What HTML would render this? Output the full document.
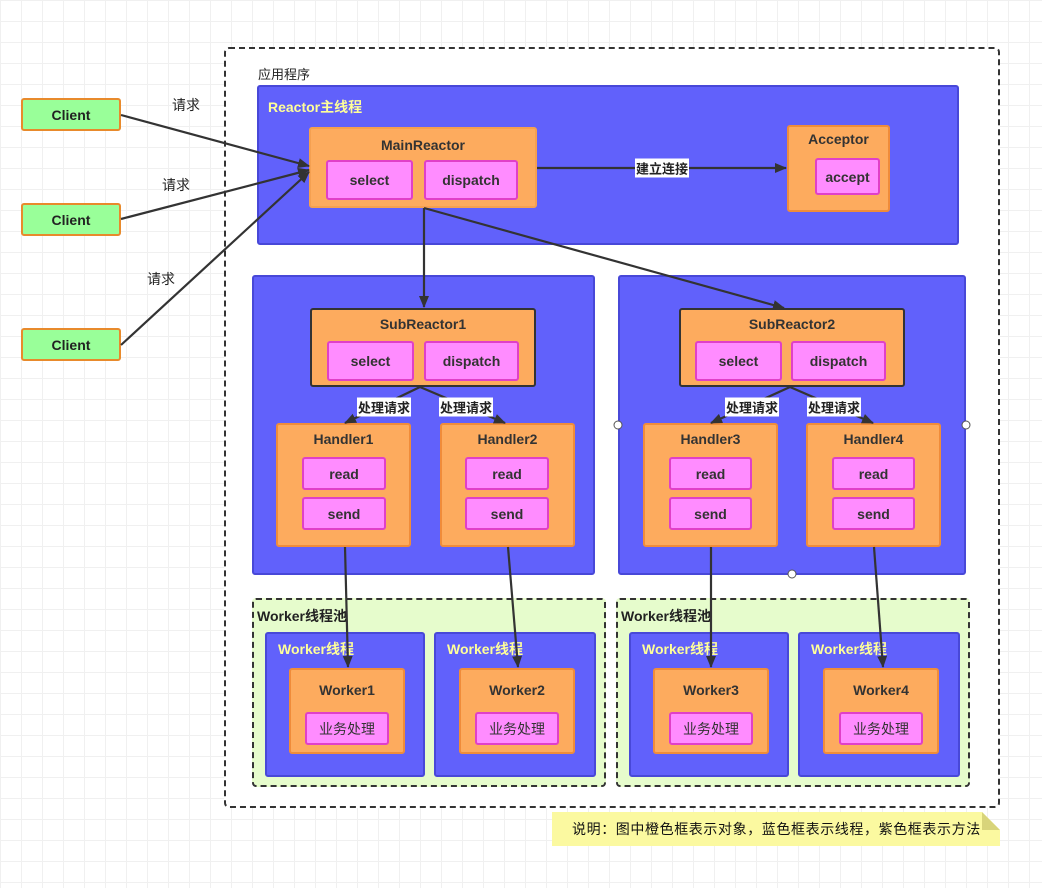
<!DOCTYPE html>
<html><head><meta charset="utf-8"><style>
body{margin:0;width:1042px;height:888px;position:relative;overflow:hidden;font-family:"Liberation Sans","Noto Sans CJK SC",sans-serif;
background-color:#fff;background-image:linear-gradient(#f0f0f0 1px,transparent 1px),linear-gradient(90deg,#f0f0f0 1px,transparent 1px);background-size:21px 21px;}
div{position:absolute;box-sizing:border-box}
.t{font-size:14px;color:#222;white-space:nowrap}
.blue{background:#6161fb;border:2px solid #4848d8;border-radius:3px}
.or{background:#fdab5e;border:2px solid #f08c3a;border-radius:3px;text-align:center;font-weight:bold;font-size:14px;color:#333;padding-top:8px}
.pk{background:#ff8cff;border:2px solid #e040c8;border-radius:3px;text-align:center;font-weight:bold;font-size:14px;color:#333;display:flex;align-items:center;justify-content:center;padding:0}
.cl{background:#99ff99;border:2px solid #e88a2c;border-radius:3px;display:flex;align-items:center;justify-content:center;font-weight:bold;font-size:14px;color:#222;width:100px;height:33px;left:21px}
.pool{background:#e6fccc;border:2px dashed #333;border-radius:4px}
.wl{color:#ffff99;font-weight:bold;font-size:14px}
.lb{background:#fff;font-size:13px;font-weight:bold;color:#222;padding:0 1px;white-space:nowrap;transform:translate(-50%,-50%)}
</style></head><body>
<div style="left:224px;top:47px;width:776px;height:761px;border:2px dashed #333;border-radius:5px;background:#fff"></div>
<div class="t" style="left:258px;top:64px;font-size:13px">应用程序</div>
<div class="blue" style="left:257px;top:85px;width:702px;height:160px"></div>
<div class="wl" style="left:268px;top:97px">Reactor主线程</div>
<div class="or" style="left:309px;top:127px;width:228px;height:81px;border-color:#f5a050">MainReactor</div>
<div class="pk" style="left:326px;top:160px;width:87px;height:40px">select</div>
<div class="pk" style="left:424px;top:160px;width:94px;height:40px">dispatch</div>
<div class="or" style="left:787px;top:125px;width:103px;height:87px;padding-top:4px">Acceptor</div>
<div class="pk" style="left:815px;top:158px;width:65px;height:37px">accept</div>
<div class="cl" style="top:98px">Client</div>
<div class="cl" style="top:203px">Client</div>
<div class="cl" style="top:328px">Client</div>
<div class="t" style="left:172px;top:95px">请求</div>
<div class="t" style="left:162px;top:175px">请求</div>
<div class="t" style="left:147px;top:269px">请求</div>

<div class="blue" style="left:252px;top:275px;width:343px;height:300px"></div>
<div class="blue" style="left:618px;top:275px;width:348px;height:300px"></div>
<div class="or" style="left:310px;top:308px;width:226px;height:79px;border-color:#333;padding-top:6px">SubReactor1</div>
<div class="pk" style="left:327px;top:341px;width:87px;height:40px">select</div>
<div class="pk" style="left:424px;top:341px;width:95px;height:40px">dispatch</div>
<div class="or" style="left:679px;top:308px;width:226px;height:79px;border-color:#333;padding-top:6px">SubReactor2</div>
<div class="pk" style="left:695px;top:341px;width:87px;height:40px">select</div>
<div class="pk" style="left:791px;top:341px;width:95px;height:40px">dispatch</div>

<div class="or" style="left:276px;top:423px;width:135px;height:124px;padding-top:6px">Handler1</div>
<div class="pk" style="left:302px;top:457px;width:84px;height:33px">read</div>
<div class="pk" style="left:302px;top:497px;width:84px;height:33px">send</div>
<div class="or" style="left:440px;top:423px;width:135px;height:124px;padding-top:6px">Handler2</div>
<div class="pk" style="left:465px;top:457px;width:84px;height:33px">read</div>
<div class="pk" style="left:465px;top:497px;width:84px;height:33px">send</div>
<div class="or" style="left:643px;top:423px;width:135px;height:124px;padding-top:6px">Handler3</div>
<div class="pk" style="left:669px;top:457px;width:83px;height:33px">read</div>
<div class="pk" style="left:669px;top:497px;width:83px;height:33px">send</div>
<div class="or" style="left:806px;top:423px;width:135px;height:124px;padding-top:6px">Handler4</div>
<div class="pk" style="left:832px;top:457px;width:83px;height:33px">read</div>
<div class="pk" style="left:832px;top:497px;width:83px;height:33px">send</div>

<div class="pool" style="left:252px;top:598px;width:354px;height:189px"></div>
<div class="pool" style="left:616px;top:598px;width:354px;height:189px"></div>
<div class="t" style="left:257px;top:606px;font-weight:bold">Worker线程池</div>
<div class="t" style="left:621px;top:606px;font-weight:bold">Worker线程池</div>

<div class="blue" style="left:265px;top:632px;width:160px;height:145px"></div>
<div class="blue" style="left:434px;top:632px;width:162px;height:145px"></div>
<div class="blue" style="left:629px;top:632px;width:160px;height:145px"></div>
<div class="blue" style="left:798px;top:632px;width:162px;height:145px"></div>
<div class="wl" style="left:278px;top:639px">Worker线程</div>
<div class="wl" style="left:447px;top:639px">Worker线程</div>
<div class="wl" style="left:642px;top:639px">Worker线程</div>
<div class="wl" style="left:811px;top:639px">Worker线程</div>

<div class="or" style="left:289px;top:668px;width:116px;height:86px;padding-top:12px">Worker1</div>
<div class="pk" style="left:305px;top:712px;width:84px;height:33px;font-weight:normal">业务处理</div>
<div class="or" style="left:459px;top:668px;width:116px;height:86px;padding-top:12px">Worker2</div>
<div class="pk" style="left:475px;top:712px;width:84px;height:33px;font-weight:normal">业务处理</div>
<div class="or" style="left:653px;top:668px;width:116px;height:86px;padding-top:12px">Worker3</div>
<div class="pk" style="left:669px;top:712px;width:84px;height:33px;font-weight:normal">业务处理</div>
<div class="or" style="left:823px;top:668px;width:116px;height:86px;padding-top:12px">Worker4</div>
<div class="pk" style="left:839px;top:712px;width:84px;height:33px;font-weight:normal">业务处理</div>

<div style="left:552px;top:812px;width:448px;height:34px;background:#fbf9a0;clip-path:polygon(0 0,430px 0,448px 18px,448px 34px,0 34px)"></div>
<div style="left:982px;top:812px;width:18px;height:18px;background:#d8d47a;clip-path:polygon(0 0,100% 100%,0 100%)"></div>
<div class="t" style="left:572px;top:819px;font-size:14px;letter-spacing:0.6px;color:#111">说明：图中橙色框表示对象，蓝色框表示线程，紫色框表示方法</div>

<svg width="1042" height="888" style="position:absolute;left:0;top:0">
<defs><marker id="a" markerWidth="12" markerHeight="10" refX="11" refY="5" orient="auto" markerUnits="userSpaceOnUse"><path d="M0,0 L12,5 L0,10 z" fill="#333"/></marker></defs>
<g stroke="#333" stroke-width="2.2" fill="none" marker-end="url(#a)">
<line x1="121" y1="115" x2="309" y2="166"/>
<line x1="121" y1="219" x2="309" y2="170"/>
<line x1="121" y1="345" x2="309" y2="172"/>
<line x1="537" y1="168" x2="786" y2="168"/>
<line x1="424" y1="208" x2="424" y2="307"/>
<line x1="424" y1="208" x2="784" y2="308"/>
<line x1="420" y1="387" x2="345" y2="423"/>
<line x1="420" y1="387" x2="505" y2="423"/>
<line x1="790" y1="387" x2="711" y2="423"/>
<line x1="790" y1="387" x2="873" y2="423"/>
<line x1="345" y1="547" x2="348" y2="667"/>
<line x1="508" y1="547" x2="518" y2="667"/>
<line x1="711" y1="547" x2="711" y2="667"/>
<line x1="874" y1="547" x2="883" y2="667"/>
</g>
<g fill="#fff" stroke="#555" stroke-width="1"><circle cx="618" cy="425" r="4"/><circle cx="966" cy="425" r="4"/><circle cx="792" cy="574" r="4"/></g>
</svg>
<div class="lb" style="left:662px;top:168px">建立连接</div>
<div class="lb" style="left:384px;top:407px">处理请求</div>
<div class="lb" style="left:466px;top:407px">处理请求</div>
<div class="lb" style="left:752px;top:407px">处理请求</div>
<div class="lb" style="left:834px;top:407px">处理请求</div>
</body></html>
